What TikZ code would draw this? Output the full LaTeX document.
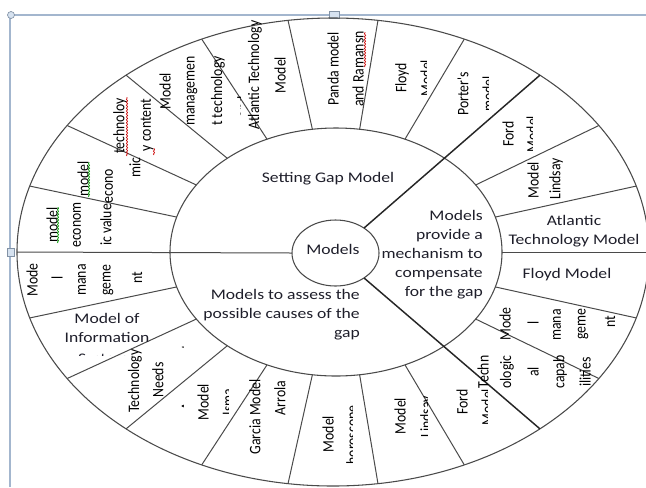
\documentclass[tikz,border=0pt]{standalone}
\usepackage{fontspec}
\setmainfont{Carlito}
\newfontfamily\wideface{Carlito}[FakeStretch=1.2]
\newfontfamily\tallface{Carlito}[FakeStretch=0.86]
\usetikzlibrary{shapes.geometric,calc,decorations.pathmorphing}
\definecolor{framecol}{HTML}{A3B6CE}
\definecolor{handlecol}{HTML}{D6E2F0}
\definecolor{rimcol}{HTML}{4A4A4A}
\definecolor{inkcol}{HTML}{1E1E2A}

\begin{document}
\begin{tikzpicture}[
  x=0.75pt, y=-0.75pt,
  rim/.style={draw=rimcol, line width=0.8pt},
  spoke/.style={draw=rimcol, line width=0.75pt},
  mainspoke/.style={draw=black!85, line width=1.1pt},
  flat/.style={font=\wideface\fontsize{11}{14.25}\selectfont, text=inkcol, inner sep=0pt, align=center},
  upright/.style={rotate=90, font=\tallface\fontsize{12}{19.5}\selectfont, text=black, inner sep=0pt},
  spell/.style={decorate, decoration={snake, amplitude=0.45pt, segment length=2.2pt}, line width=0.5pt},
  handle/.style={draw=framecol!80!black, fill=handlecol, line width=0.5pt}
  ]
  \useasboundingbox (0,0) rectangle (646,487);

  % canvas frame and handles
  \draw[framecol, line width=1pt] (10,487) -- (10,15) -- (646,15);
  \draw[handle] (11,15) circle [radius=3.5];
  \draw[handle] (329,11) rectangle (339,18);
  \draw[handle] (7,248) rectangle (14,256);

  % rings
  \coordinate (ringC) at (333,252);
  \coordinate (coreC) at (336,252);
  \coordinate (hubC) at (335.5,253);
  \draw[rim] (ringC) ellipse [x radius=316, y radius=234];
  \draw[rim] (coreC) ellipse [x radius=166, y radius=124];
  \draw[rim] (hubC) ellipse [x radius=43.5, y radius=33];

  % spoke end points
  \foreach \k in {0,...,21}{
    \coordinate (in\k) at ({336+166*cos(\k*360/22)},{252-124*sin(\k*360/22)});
    \coordinate (out\k) at ({333+316*cos(\k*360/22)},{252-234*sin(\k*360/22)});
    \coordinate (hub\k) at ({335.5+43.5*cos(\k*360/22)},{253-33*sin(\k*360/22)});
  }

  % spokes
  \foreach \k in {0,1,2,4,5,6,7,8,9,10,12,13,14,15,16,17,18,20,21}
    \draw[spoke] (in\k) -- (out\k);
  \draw[spoke] (hub11) -- (out11);
  \draw[mainspoke] (hub3) -- (out3);
  \draw[mainspoke] (hub19) -- (out19);

  % inner sectors
  \node[flat] (models) at (333,249) {Models};
  \node[flat] (setGap) at (328,179) {Setting Gap Model};
  \node[flat, anchor=east, align=right] (fixGap) at (483,255) {Models\\provide a\\mechanism to\\compensate\\for the gap};
  \node[flat, anchor=east, align=right] (causeGap) at (360,315) {Models to assess the\\possible causes of the\\gap};

  % outer ring, upper half
  \node[upright] (valA) at (52,225) {model};
  \node[upright] (valB) at (77,225) {econom};
  \node[upright] (valC) at (106,225) {ic value};
  \node[upright] (ecoA) at (83,179) {model};
  \node[upright] (ecoB) at (109,186) {econo};
  \node[upright] (ecoC) at (135,168) {mic};
  \node[upright] (techA) at (120,126) {technoloy};
  \node[upright] (techB) at (147,125) {y content};
  \node[upright] (mgmtA) at (165,91) {Model};
  \node[upright] (mgmtB) at (192,91) {managemen};
  \node[upright] (mgmtC) at (218,91) {t technology};
  \begin{scope}
    \clip (200,60) rectangle (240,140);
    \node[upright] (mgmtD) at (243,107) {and};
  \end{scope}
  \node[upright] (atlA) at (255,75) {Atlantic Technology};
  \node[upright] (atlB) at (280,75) {Model};
  \node[upright] (pandaA) at (333,69) {Panda model};
  \node[upright] (pandaB) at (358,69) {and Ramansn};
  \node[upright] (floydA) at (402,78) {Floyd};
  \begin{scope}
    \clip (390,40) rectangle (426,120);
    \node[upright] (floydB) at (426,78) {Model};
  \end{scope}
  \node[upright] (porterA) at (463,94) {Porter's};
  \begin{scope}
    \clip (450,60) rectangle (488,130);
    \node[upright] (porterB) at (488,94) {model};
  \end{scope}
  \node[upright] (fordA) at (508,134) {Ford};
  \begin{scope}
    \clip (490,100) rectangle (532,170);
    \node[upright] (fordB) at (532,134) {Model};
  \end{scope}
  \node[upright] (lindA) at (533,180) {Model};
  \node[upright] (lindB) at (556,179) {Lindsay};
  \node[flat] (atlR) at (574,231) {Atlantic\\Technology Model};

  % outer ring, lower half
  \node[flat] (floydR) at (567,275) {Floyd Model};
  \node[upright] (mgrA) at (505,324) {Mode};
  \node[upright] (mgrB) at (533,323) {l};
  \node[upright] (mgrC) at (557,325) {mana};
  \node[upright] (mgrD) at (583,324) {geme};
  \node[upright] (mgrE) at (610,322) {nt};
  \node[upright] (capA) at (483,372) {Techn};
  \node[upright] (capB) at (507,372) {ologic};
  \node[upright] (capC) at (533,372) {al};
  \node[upright] (capD) at (560,372) {capab};
  \node[upright] (capE) at (585,372) {ilities};
  \node[upright] (fordC) at (462,402) {Ford};
  \begin{scope}
    \clip (470,385) rectangle (487,430);
    \node[upright] (fordD) at (487,407) {Model};
  \end{scope}
  \node[upright] (lindC) at (400,416) {Model};
  \begin{scope}
    \clip (405,390) rectangle (427,445);
    \node[upright] (lindD) at (427,417) {Lindsay};
  \end{scope}
  \node[upright] (horoA) at (328,434) {Model};
  \begin{scope}
    \clip (335,400) rectangle (352,470);
    \node[upright] (horoB) at (353,435) {horoscope};
  \end{scope}
  \node[upright] (garA) at (255,417) {Garcia Model};
  \node[upright] (garB) at (280,398) {Arrola};
  \node[upright] (ismA) at (203,402) {Model};
  \begin{scope}
    \clip (212,385) rectangle (228,420);
    \node[upright] (ismB) at (228,402) {Isma};
  \end{scope}
  \node[upright] (needA) at (135,381) {Technology};
  \node[upright] (needB) at (158,380) {Needs};
  \begin{scope}
    \clip (170,340) rectangle (183,420);
    \node[upright] (needC) at (187,378) {Assessment};
  \end{scope}
  \node[flat] (infoA) at (107,328) {Model of\\Information};
  \begin{scope}
    \clip (60,345) rectangle (160,355);
    \node[flat] (infoB) at (107,360) {Systems};
  \end{scope}
  \node[upright] (mglA) at (32,280) {Mode};
  \node[upright] (mglB) at (57,278) {l};
  \node[upright] (mglC) at (82,280) {mana};
  \node[upright] (mglD) at (108,280) {geme};
  \node[upright] (mglE) at (137,278) {nt};

  % spelling marks
  \draw[spell, green!60!black] (58,243) -- (58,207);
  \draw[spell, green!60!black] (89,197) -- (89,162);
  \draw[spell, red!80!black] (127,156) -- (127,97);
  \draw[spell, red!80!black] (154,155) -- (154,148);
  \draw[spell, red!80!black] (365,67) -- (365,32);
\end{tikzpicture}
\end{document}
